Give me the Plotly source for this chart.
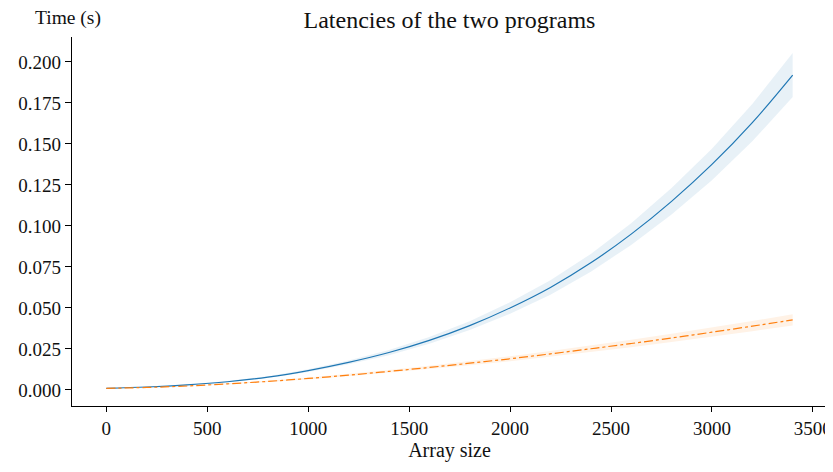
import plotly.graph_objects as go

array_size = [0, 200, 400, 600, 800, 1000, 1200, 1400, 1600, 1800, 2000,
              2200, 2400, 2600, 2800, 3000, 3200, 3400]

prog1_mean = [0.0010, 0.0018, 0.0031, 0.0050, 0.0078, 0.0118, 0.0168, 0.0228,
              0.0302, 0.0392, 0.0500, 0.0625, 0.0775, 0.0950, 0.1150, 0.1375,
              0.1630, 0.1920]
prog1_upper = [0.0011, 0.0019, 0.0033, 0.0054, 0.0084, 0.0126, 0.0180, 0.0244,
               0.0323, 0.0419, 0.0535, 0.0669, 0.0829, 0.1017, 0.1231, 0.1471,
               0.1744, 0.2054]
prog1_lower = [0.0009, 0.0017, 0.0029, 0.0047, 0.0073, 0.0110, 0.0156, 0.0212,
               0.0281, 0.0365, 0.0465, 0.0581, 0.0721, 0.0884, 0.1070, 0.1279,
               0.1516, 0.1786]

prog2_mean = [0.0010, 0.0015, 0.0024, 0.0037, 0.0052, 0.0070, 0.0090, 0.0113,
              0.0137, 0.0163, 0.0190, 0.0220, 0.0251, 0.0283, 0.0317, 0.0352,
              0.0389, 0.0427]
prog2_upper = [0.0011, 0.0016, 0.0026, 0.0040, 0.0056, 0.0076, 0.0097, 0.0122,
               0.0148, 0.0176, 0.0205, 0.0238, 0.0271, 0.0306, 0.0342, 0.0380,
               0.0420, 0.0461]
prog2_lower = [0.0009, 0.0014, 0.0022, 0.0034, 0.0048, 0.0064, 0.0083, 0.0104,
               0.0126, 0.0150, 0.0175, 0.0202, 0.0231, 0.0260, 0.0292, 0.0324,
               0.0358, 0.0393]

BLUE = "#1f77b4"
ORANGE = "#ff7f0e"
FONT = "Liberation Serif"
TXT = "#111111"

fig = go.Figure()

# bands
fig.add_trace(go.Scatter(x=array_size, y=prog1_upper, mode="lines",
                         line=dict(width=0), hoverinfo="skip", showlegend=False))
fig.add_trace(go.Scatter(x=array_size, y=prog1_lower, mode="lines",
                         line=dict(width=0), fill="tonexty",
                         fillcolor="rgba(31,119,180,0.1)", hoverinfo="skip",
                         showlegend=False))
fig.add_trace(go.Scatter(x=array_size, y=prog2_upper, mode="lines",
                         line=dict(width=0), hoverinfo="skip", showlegend=False))
fig.add_trace(go.Scatter(x=array_size, y=prog2_lower, mode="lines",
                         line=dict(width=0), fill="tonexty",
                         fillcolor="rgba(255,127,14,0.1)", hoverinfo="skip",
                         showlegend=False))

# lines
fig.add_trace(go.Scatter(x=array_size, y=prog1_mean, mode="lines",
                         line=dict(color=BLUE, width=1.2, shape="spline"),
                         showlegend=False))
fig.add_trace(go.Scatter(x=array_size, y=prog2_mean, mode="lines",
                         line=dict(color=ORANGE, width=1.2, dash="dashdot",
                                   shape="spline"),
                         showlegend=False))

fig.update_layout(
    width=825, height=456,
    margin=dict(l=64, r=6, t=29, b=58, autoexpand=False),
    plot_bgcolor="white", paper_bgcolor="white",
    font=dict(family=FONT, size=19, color=TXT),
    title=dict(text="Latencies of the two programs", x=0.5, xref="paper",
               y=0.9737, yref="container", xanchor="center", yanchor="middle",
               font=dict(family=FONT, size=24, color=TXT)),
    showlegend=False,
)

fig.update_xaxes(
    range=[-170, 3570], tickvals=[0, 500, 1000, 1500, 2000, 2500, 3000, 3500],
    showgrid=False, zeroline=False, showline=True, linecolor="black",
    linewidth=1.3, ticks="outside", ticklen=5, tickwidth=1.1, tickcolor="black",
    automargin=False, ticklabeloverflow="allow",
    title=dict(text="Array size", font=dict(family=FONT, size=20, color=TXT),
               standoff=4),
    tickfont=dict(family=FONT, size=19, color=TXT),
)
fig.update_yaxes(
    range=[-0.0098, 0.2152], dtick=0.025, tick0=0, tickformat=".3f",
    showgrid=False, zeroline=False, showline=True, linecolor="black",
    linewidth=1.3, ticks="outside", ticklen=6, tickwidth=1.1, tickcolor="black",
    automargin=False,
    tickfont=dict(family=FONT, size=19, color=TXT),
)

fig.add_annotation(text="Time (s)", xref="paper", yref="paper",
                   x=-0.005, y=1.015, xanchor="center", yanchor="bottom",
                   showarrow=False, font=dict(family=FONT, size=19.5, color=TXT))

fig.write_html("out.html")
